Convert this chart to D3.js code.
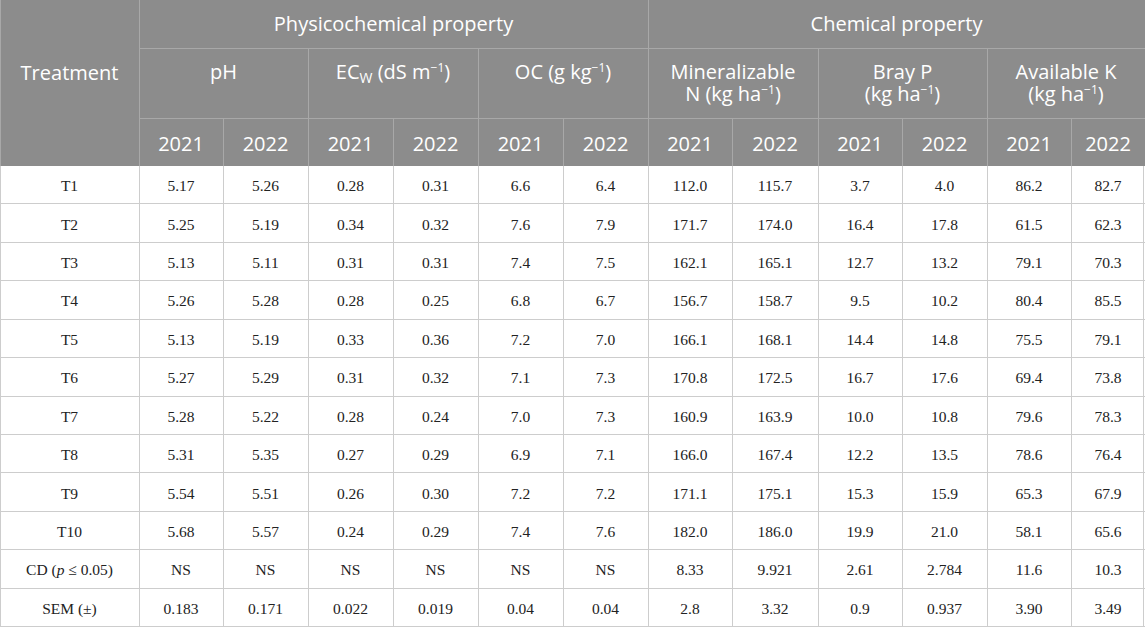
<!DOCTYPE html>
<html>
<head>
<meta charset="utf-8">
<script src="https://cdn.jsdelivr.net/npm/d3@7"></script>
<style>
  html, body { margin: 0; padding: 0; background: #fff; overflow: hidden; }
  svg { display: block; }
</style>
</head>
<body>
<div id="chart"></div>
<script>
/********** Data **********/
var treatments = ["T1", "T2", "T3", "T4", "T5", "T6", "T7", "T8", "T9", "T10", "CD", "SEM (±)"]
var years = ["2021", "2022"]
var pH2021 = ["5.17", "5.25", "5.13", "5.26", "5.13", "5.27", "5.28", "5.31", "5.54", "5.68", "NS", "0.183"]
var pH2022 = ["5.26", "5.19", "5.11", "5.28", "5.19", "5.29", "5.22", "5.35", "5.51", "5.57", "NS", "0.171"]
var ec2021 = ["0.28", "0.34", "0.31", "0.28", "0.33", "0.31", "0.28", "0.27", "0.26", "0.24", "NS", "0.022"]
var ec2022 = ["0.31", "0.32", "0.31", "0.25", "0.36", "0.32", "0.24", "0.29", "0.30", "0.29", "NS", "0.019"]
var oc2021 = ["6.6", "7.6", "7.4", "6.8", "7.2", "7.1", "7.0", "6.9", "7.2", "7.4", "NS", "0.04"]
var oc2022 = ["6.4", "7.9", "7.5", "6.7", "7.0", "7.3", "7.3", "7.1", "7.2", "7.6", "NS", "0.04"]
var n2021 = ["112.0", "171.7", "162.1", "156.7", "166.1", "170.8", "160.9", "166.0", "171.1", "182.0", "8.33", "2.8"]
var n2022 = ["115.7", "174.0", "165.1", "158.7", "168.1", "172.5", "163.9", "167.4", "175.1", "186.0", "9.921", "3.32"]
var p2021 = ["3.7", "16.4", "12.7", "9.5", "14.4", "16.7", "10.0", "12.2", "15.3", "19.9", "2.61", "0.9"]
var p2022 = ["4.0", "17.8", "13.2", "10.2", "14.8", "17.6", "10.8", "13.5", "15.9", "21.0", "2.784", "0.937"]
var k2021 = ["86.2", "61.5", "79.1", "80.4", "75.5", "69.4", "79.6", "78.6", "65.3", "58.1", "11.6", "3.90"]
var k2022 = ["82.7", "62.3", "70.3", "85.5", "79.1", "73.8", "78.3", "76.4", "67.9", "65.6", "10.3", "3.49"]

// property groups (row 1) and properties (row 2)
var groups = [
  {name: "Physicochemical property", span: 6},
  {name: "Chemical property", span: 6}
]
var props = [
  {key: "pH", lines: [[{t: "pH"}]]},
  {key: "EC", lines: [[{t: "EC"}, {t: "W", sub: true}, {t: " (dS m"}, {t: "−1", sup: true}, {t: ")"}]]},
  {key: "OC", lines: [[{t: "OC (g kg"}, {t: "−1", sup: true}, {t: ")"}]]},
  {key: "N", lines: [[{t: "Mineralizable"}], [{t: "N (kg ha"}, {t: "−1", sup: true}, {t: ")"}]]},
  {key: "P", lines: [[{t: "Bray P"}], [{t: "(kg ha"}, {t: "−1", sup: true}, {t: ")"}]]},
  {key: "K", lines: [[{t: "Available K"}], [{t: "(kg ha"}, {t: "−1", sup: true}, {t: ")"}]]}
]
var columns = [pH2021, pH2022, ec2021, ec2022, oc2021, oc2022, n2021, n2022, p2021, p2022, k2021, k2022]

/********** Layout **********/
var W = 1145, H = 628
var headerBg = "#8c8c8c", headerLine = "#a8a8a8", bodyLine = "#cdcdcd"
var sans = "'Open Sans', 'Noto Sans', sans-serif"
var serif = "'Liberation Serif', 'Times New Roman', serif"

var firstW = 139
var row1 = 48, row2 = 118, headBottom = 166, tableBottom = 627
var lineGap = 22

// data column edges
var colEdges = [139, 223, 308, 393, 478, 563, 648, 732, 818, 902, 987, 1071, 1145]
var colMid = function(i) { return (colEdges[i] + colEdges[i + 1]) / 2 }

var y = d3.scaleBand()
  .domain(d3.range(treatments.length))
  .range([headBottom, tableBottom])

var svg = d3.select("#chart").append("svg")
  .attr("width", W)
  .attr("height", H)

// header background
svg.append("rect")
  .attr("x", 0).attr("y", 0)
  .attr("width", W).attr("height", headBottom)
  .attr("fill", headerBg)

// header lines
var hl = svg.append("g").attr("stroke", headerLine).attr("stroke-width", 1)
hl.append("line").attr("x1", firstW).attr("x2", W).attr("y1", row1 + 0.5).attr("y2", row1 + 0.5)
hl.append("line").attr("x1", firstW).attr("x2", W).attr("y1", row2 + 0.5).attr("y2", row2 + 0.5)
hl.append("line").attr("x1", firstW + 0.5).attr("x2", firstW + 0.5).attr("y1", 0).attr("y2", headBottom)
hl.append("line").attr("x1", colEdges[6] + 0.5).attr("x2", colEdges[6] + 0.5).attr("y1", 0).attr("y2", headBottom)
props.forEach(function(p, i) {
  if (i % 3 === 0) return
  hl.append("line").attr("x1", colEdges[i * 2] + 0.5).attr("x2", colEdges[i * 2] + 0.5)
    .attr("y1", row1).attr("y2", headBottom)
})
columns.forEach(function(c, i) {
  if (i % 2 === 0) return
  hl.append("line").attr("x1", colEdges[i] + 0.5).attr("x2", colEdges[i] + 0.5)
    .attr("y1", row2).attr("y2", headBottom)
})
hl.append("line").attr("x1", 0.5).attr("x2", 0.5).attr("y1", 0).attr("y2", headBottom)

// header text
var ht = svg.append("g")
  .attr("fill", "#fff")
  .attr("font-family", sans)
  .attr("font-size", 20)
  .attr("text-anchor", "middle")

ht.append("text").attr("x", firstW / 2).attr("y", 80).text("Treatment")

var gStart = 0
groups.forEach(function(g) {
  ht.append("text")
    .attr("x", (colEdges[gStart] + colEdges[gStart + g.span]) / 2)
    .attr("y", 31)
    .text(g.name)
  gStart += g.span
})

// one <text> per header cell; a new line restarts x on its first tspan
props.forEach(function(p, i) {
  var cx = (colEdges[i * 2] + colEdges[i * 2 + 2]) / 2
  var t = ht.append("text").attr("x", cx).attr("y", 79)
  var dyAcc = 0
  p.lines.forEach(function(line, li) {
    line.forEach(function(part, k) {
      var shift = part.sub ? 4 : part.sup ? -7 : 0
      var ts = t.append("tspan").text(part.t)
      if (k === 0 && li > 0) {
        ts.attr("x", cx).attr("dy", lineGap + shift - dyAcc)
      } else {
        ts.attr("dy", shift - dyAcc)
      }
      if (part.sub) ts.attr("font-size", 14)
      if (part.sup) ts.attr("font-size", 12)
      dyAcc = shift
    })
  })
})

columns.forEach(function(c, i) {
  ht.append("text")
    .attr("x", colMid(i))
    .attr("y", 151)
    .text(years[i % 2])
})

// body grid lines
var bl = svg.append("g").attr("stroke", bodyLine).attr("stroke-width", 1)
bl.selectAll("line.h")
  .data(d3.range(1, treatments.length + 1))
  .join("line")
  .attr("class", "h")
  .attr("x1", 0).attr("x2", W)
  .attr("y1", function(i) { return Math.round(y(i - 1) + y.bandwidth()) - 0.5 })
  .attr("y2", function(i) { return Math.round(y(i - 1) + y.bandwidth()) - 0.5 })
bl.selectAll("line.v")
  .data(colEdges)
  .join("line")
  .attr("class", "v")
  .attr("x1", function(d, i) { return i === colEdges.length - 1 ? d - 1.5 : d + 0.5 })
  .attr("x2", function(d, i) { return i === colEdges.length - 1 ? d - 1.5 : d + 0.5 })
  .attr("y1", headBottom).attr("y2", tableBottom)
bl.append("line").attr("x1", 0.5).attr("x2", 0.5).attr("y1", headBottom).attr("y2", tableBottom)

// body text
var bt = svg.append("g")
  .attr("fill", "#222")
  .attr("font-family", serif)
  .attr("font-size", 15.5)
  .attr("text-anchor", "middle")

treatments.forEach(function(t, r) {
  var tx = bt.append("text")
    .attr("x", firstW / 2)
    .attr("y", y(r) + y.bandwidth() / 2 + 6)
  if (t === "CD") {
    tx.append("tspan").text("CD (")
    tx.append("tspan").attr("font-style", "italic").text("p")
    tx.append("tspan").text(" ≤ 0.05)")
  } else {
    tx.text(t)
  }
})

columns.forEach(function(c, i) {
  bt.selectAll(null)
    .data(c)
    .join("text")
    .attr("x", colMid(i))
    .attr("y", function(d, r) { return y(r) + y.bandwidth() / 2 + 6 })
    .text(function(d) { return d })
})
</script>
</body>
</html>
